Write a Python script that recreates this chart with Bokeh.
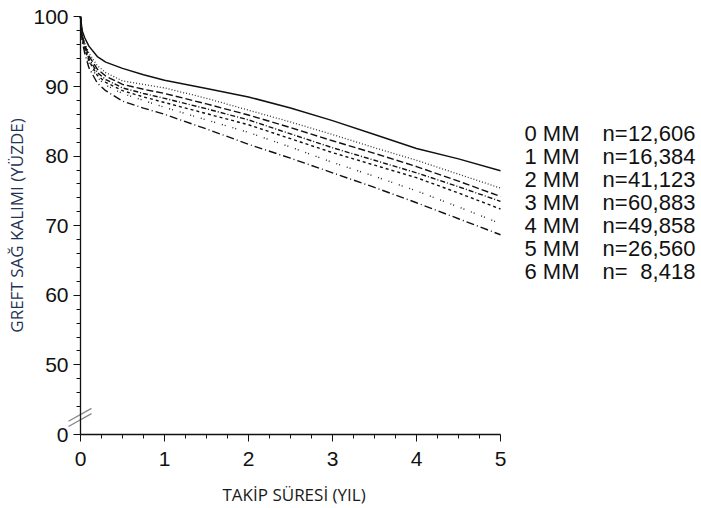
from bokeh.plotting import figure
from bokeh.models import Range1d, FixedTicker, Title
from bokeh.core.properties import value
from bokeh.embed import file_html
from bokeh.resources import INLINE

# ---- data ----
years = [0, 0.02, 0.05, 0.1, 0.2, 0.3, 0.5, 0.75, 1, 1.5, 2, 2.5, 3, 3.5, 4, 4.5, 5]
mm0 = [100, 98.0, 97.0, 95.8, 94.3, 93.5, 92.6, 91.7, 90.9, 89.7, 88.5, 86.9, 85.1, 83.1, 81.1, 79.6, 77.9]
mm1 = [100, 97.5, 96.3, 94.8, 93.0, 92.0, 90.8, 90.3, 89.8, 88.3, 86.6, 84.9, 83.1, 81.2, 79.4, 77.4, 75.4]
mm2 = [100, 97.3, 96.0, 94.4, 92.5, 91.5, 90.3, 89.6, 89.0, 87.5, 85.9, 84.1, 82.2, 80.4, 78.5, 76.4, 74.2]
mm3 = [100, 97.1, 95.7, 94.0, 92.0, 91.0, 89.8, 89.0, 88.3, 86.8, 85.2, 83.2, 81.2, 79.4, 77.6, 75.6, 73.5]
mm4 = [100, 97.0, 95.5, 93.7, 91.6, 90.6, 89.4, 88.5, 87.7, 86.1, 84.5, 82.5, 80.5, 78.7, 76.9, 74.7, 72.4]
mm5 = [100, 96.8, 95.3, 93.4, 91.3, 90.2, 89.0, 88.0, 87.0, 85.2, 83.4, 81.3, 79.1, 77.1, 75.0, 72.7, 70.3]
mm6 = [100, 96.5, 94.8, 92.7, 90.5, 89.4, 87.9, 86.9, 86.0, 83.9, 81.7, 79.7, 77.6, 75.5, 73.3, 71.0, 68.7]

mm_labels = ["0 MM", "1 MM", "2 MM", "3 MM", "4 MM", "5 MM", "6 MM"]
n_counts = ["12,606", "16,384", "41,123", "60,883", "49,858", "26,560", "8,418"]

x_ticks = [0, 1, 2, 3, 4, 5]
y_ticks = [40, 50, 60, 70, 80, 90, 100]          # 40 is the broken-axis position of 0
y_tick_labels = ["0", "50", "60", "70", "80", "90", "100"]

# ---- styles ----
series = [mm0, mm1, mm2, mm3, mm4, mm5, mm6]
dashes = ["solid", "1 2", "7 3", "5 2 1 2", "3 3", "1 2 1 7", "8 3 1 3"]
widths = [1.5, 1.3, 1.4, 1.4, 1.4, 1.4, 1.4]
colors = ["#111111", "#333333", "#111111", "#111111", "#111111", "#222222", "#111111"]

PXU_X = 84.0
PXU_Y = 6.96
X0_PX = 80      # pixel of x = 0 inside the frame
Y40_PX = 434    # pixel of the axis (value 40 = broken 0) from frame top
fw = 697
fh = 480
x_start = -X0_PX / PXU_X
y_start = 40 - (fh - Y40_PX) / PXU_Y
y_end = 40 + Y40_PX / PXU_Y

p = figure(output_backend="svg", toolbar_location=None,
           frame_width=fw, frame_height=fh,
           x_range=Range1d(x_start, x_start + fw / PXU_X),
           y_range=Range1d(y_start, y_end),
           min_border_left=0, min_border_right=0, min_border_top=0, min_border_bottom=0,
           background_fill_color="white", border_fill_color="white")
p.outline_line_color = None
p.xgrid.visible = False
p.ygrid.visible = False

for ys, d, w, c in zip(series, dashes, widths, colors):
    p.line(years, ys, line_color=c, line_width=w, line_dash=d)

# axis break marks (decoration)
p.line([-0.143, 0.131], [41.9, 43.75], line_color="#888888", line_width=1.3)
p.line([-0.143, 0.131], [41.15, 43.0], line_color="#888888", line_width=1.3)

# legend-like text
lx1 = 5.286
lx2 = 6.214
lx3 = 7.32
ly = [83.2 - i * 3.29 for i in range(len(mm_labels))]
font = value("Liberation Sans")
p.text([lx1] * len(mm_labels), ly, text=mm_labels, text_font=font, text_font_size="22px",
       text_baseline="middle", text_align="left", text_color="#111111")
p.text([lx2] * len(mm_labels), ly, text=["n="] * len(mm_labels), text_font=font, text_font_size="22px",
       text_baseline="middle", text_align="left", text_color="#111111")
p.text([lx3] * len(mm_labels), ly, text=n_counts, text_font=font, text_font_size="22px",
       text_baseline="middle", text_align="right", text_color="#111111")

# x axis
xa = p.xaxis[0]
xa.fixed_location = 40
xa.ticker = FixedTicker(ticks=x_ticks, minor_ticks=[0.25, 0.5, 0.75, 1.25, 1.5, 1.75, 2.25, 2.5, 2.75,
                                                   3.25, 3.5, 3.75, 4.25, 4.5, 4.75])
xa.bounds = (0, 5)
xa.axis_line_color = "#111111"
xa.axis_line_width = 1.3
xa.major_tick_out = 7
xa.major_tick_in = 0
xa.minor_tick_out = 4
xa.minor_tick_in = 0
xa.major_tick_line_color = "#111111"
xa.minor_tick_line_color = "#111111"
xa.major_label_text_font = "Liberation Sans"
xa.major_label_text_font_size = "21px"
xa.major_label_text_color = "#111111"
xa.major_label_standoff = 10

# x axis title, placed under the 0-5 span
xt = Title(text="TAKİP SÜRESİ (YIL)", align="left", offset=222, standoff=0,
           text_font="Open Sans", text_font_size="17px", text_font_style="normal",
           text_color="#1a1a1a")
p.add_layout(xt, "below")

# y axis
ya = p.yaxis[0]
ya.fixed_location = 0
ya.ticker = FixedTicker(ticks=y_ticks, minor_ticks=[44, 46, 48] + [v for v in range(52, 100, 2) if v % 10 != 0])
ya.major_label_overrides = {t: s for t, s in zip(y_ticks, y_tick_labels)}
ya.bounds = (40, 100)
ya.axis_line_color = "#111111"
ya.axis_line_width = 1.3
ya.major_tick_out = 7
ya.major_tick_in = 0
ya.minor_tick_out = 4
ya.minor_tick_in = 0
ya.major_tick_line_color = "#111111"
ya.minor_tick_line_color = "#111111"
ya.major_label_text_font = "Liberation Sans"
ya.major_label_text_font_size = "21px"
ya.major_label_text_color = "#111111"
ya.major_label_standoff = 5
ya.axis_label = "GREFT SAĞ KALIMI (YÜZDE)"
ya.axis_label_text_font = "Open Sans"
ya.axis_label_text_font_size = "17px"
ya.axis_label_text_font_style = "normal"
ya.axis_label_text_color = "#1f3354"
ya.axis_label_standoff = 2

open("out.html", "w").write(file_html(p, INLINE))
